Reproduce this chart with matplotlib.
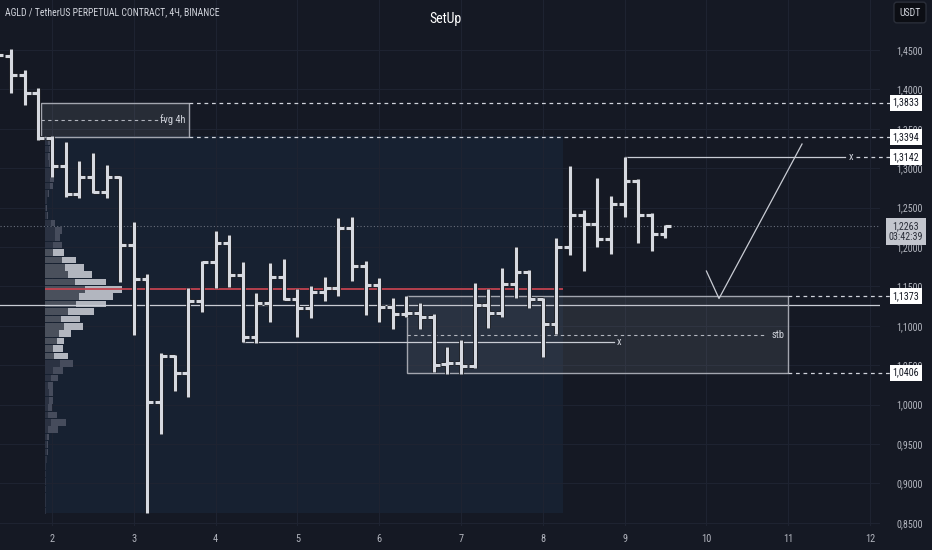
import matplotlib
matplotlib.use("Agg")
import matplotlib.pyplot as plt
from matplotlib import font_manager
from matplotlib.patches import Rectangle
import numpy as np

# ---------------- data (4h bars, bar k sits at day 2 + k/6)
bar_idx = list(range(-4, 46))
opens = [1.4450, 1.4424, 1.4183, 1.3958, 1.3379, 1.3028, 1.2673, 1.2892, 1.2702, 1.2892,
         1.2025, 1.1594, 1.0029, 1.0617, 1.0405, 1.1315, 1.1806, 1.2047, 1.1645, 1.0862,
         1.1293, 1.1623, 1.1336, 1.1222, 1.1433, 1.1484, 1.2245, 1.1763, 1.1518, 1.1235,
         1.1150, 1.1159, 1.1108, 1.0511, 1.0524, 1.0494, 1.1264, 1.1167, 1.1530, 1.1687,
         1.1340, 1.1019, 1.1996, 1.2406, 1.2292, 1.2102, 1.2542, 1.2841, 1.2406, 1.2161]
highs = [1.4520, 1.4509, 1.4246, 1.4014, 1.3409, 1.3336, 1.3095, 1.3197, 1.3041, 1.2905,
         1.2313, 1.1657, 1.0651, 1.0629, 1.1476, 1.1826, 1.2207, 1.2152, 1.1813, 1.1420,
         1.1801, 1.1844, 1.1463, 1.1509, 1.1615, 1.2364, 1.2377, 1.1822, 1.1603, 1.1357,
         1.1382, 1.1286, 1.1150, 1.0735, 1.0820, 1.1539, 1.1463, 1.1737, 1.2004, 1.1708,
         1.1357, 1.2110, 1.3028, 1.2470, 1.2872, 1.2651, 1.3142, 1.2859, 1.2435, 1.2279]
lows = [1.4380, 1.3951, 1.3802, 1.3358, 1.2892, 1.2638, 1.2618, 1.2681, 1.2618, 1.1560,
        1.0883, 0.8628, 0.9627, 1.0176, 1.0093, 1.1179, 1.1476, 1.1496, 1.0798, 1.0786,
        1.1052, 1.1327, 1.0862, 1.1095, 1.1318, 1.1382, 1.1569, 1.1137, 1.1052, 1.0956,
        1.1108, 1.0956, 1.0410, 1.0388, 1.0388, 1.0461, 1.0968, 1.1108, 1.1349, 1.1230,
        1.0608, 1.0896, 1.1898, 1.1699, 1.2004, 1.1911, 1.2385, 1.2055, 1.1953, 1.2110]
closes = [1.4437, 1.4183, 1.3958, 1.3379, 1.3028, 1.2673, 1.2892, 1.2702, 1.2892, 1.2025,
          1.1594, 1.0029, 1.0617, 1.0405, 1.1315, 1.1813, 1.2047, 1.1645, 1.0862, 1.1293,
          1.1623, 1.1336, 1.1222, 1.1433, 1.1484, 1.2245, 1.1763, 1.1518, 1.1235, 1.1150,
          1.1159, 1.1108, 1.0503, 1.0524, 1.0494, 1.1264, 1.1167, 1.1530, 1.1687, 1.1340,
          1.1019, 1.1996, 1.2406, 1.2292, 1.2102, 1.2542, 1.2841, 1.2406, 1.2161, 1.2263]

# fixed range volume profile, rows listed from the top price downwards
vp_first_bar, vp_last_bar = 0, 37
vol_inner = [3, 4, 3, 4, 5, 5, 5, 3, 1.5, 1, 2, 6, 10, 10, 8.3, 7.7, 16.7, 20, 23.3, 30,
             40, 34.3, 30.7, 23.3, 16, 19, 14.3, 12.3, 8.3, 9.3, 15, 8.3, 6, 3.3, 4.3, 4.3,
             3.3, 3.3, 6, 3.3, 2.3, 1.7, 1.7, 1.7, 1, 1, 1, 1, 1, 1, 1]
vol_outer = [2, 2, 2, 3, 3, 4, 3.3, 1.3, 0.8, 0.7, 1.3, 4, 6.7, 5, 8.4, 11.6, 14.3, 19, 23.4, 31,
             36.7, 34, 30.3, 25.7, 19, 18.7, 11.7, 6.7, 9.4, 14, 12.7, 10, 6.7, 4.4, 4, 3.4,
             3.4, 8.4, 15, 10, 2, 1, 1, 0.6, 0.3, 0.3, 0.3, 0.3, 0.3, 0.3, 0.3]
va_rows = (15, 29)

last_price = 1.2263
last_timer = "03:42:39"
hline_price = 1.1264
fvg_top, fvg_bot = 1.3833, 1.3394
fvg_x = (1.862, 3.675)
stb_top, stb_bot = 1.1373, 1.0406
stb_x = (6.336, 11.0)
x_line_bar, x_line_end = 14, 8.870
target_bar, target_end = 42, 11.694
path_x = [10.0, 10.154, 11.169]
path_y = [1.1695, 1.1346, 1.3307]

day_ticks = list(range(2, 13))
price_ticks = [0.85, 0.90, 0.95, 1.00, 1.05, 1.10, 1.15, 1.20, 1.25, 1.30, 1.35, 1.40, 1.45]

# ---------------- style
bg = '#151924'
fg = '#d1d4dc'
muted = '#b2b5be'
bar_col = '#d6d9e0'

names = {f.name for f in font_manager.fontManager.ttflist}
narrow = next((n for n in ['Liberation Sans Narrow', 'Roboto Condensed', 'DejaVu Sans Condensed']
               if n in names), 'Roboto')
plt.rcParams['font.family'] = [narrow, 'DejaVu Sans']

W, H = 932, 550
plot_r, plot_b = 880, 526
px_day, px_price = 81.8, 788.0

fig = plt.figure(figsize=(W / 100, H / 100), dpi=100, facecolor=bg)
ax = fig.add_axes([0, (H - plot_b) / H, plot_r / W, plot_b / H])
ax.set_facecolor(bg)
ax.set_xlim(2 - 52 / px_day, 2 + (plot_r - 52) / px_day)
ax.set_ylim(1.45 - (plot_b - 50) / px_price, 1.45 + 50 / px_price)
for s in ax.spines.values():
    s.set_visible(False)

ax.set_xticks(day_ticks)
ax.set_xticklabels([str(d) for d in day_ticks])
ax.yaxis.tick_right()
ax.set_yticks(price_ticks)
ax.set_yticklabels([f"{p:.4f}".replace('.', ',') for p in price_ticks])
ax.tick_params(axis='y', length=0, pad=12, labelsize=7.2, labelcolor=muted)
ax.tick_params(axis='x', length=0, pad=6, labelsize=7.5, labelcolor=muted)
ax.set_axisbelow(True)
ax.grid(color='#1e2331', lw=0.8)

x = 2 + np.array(bar_idx) / 6
o, h, l, c = map(np.array, (opens, highs, lows, closes))
step = 1 / 6

# ---------------- volume profile range
sel = (np.array(bar_idx) >= vp_first_bar) & (np.array(bar_idx) <= vp_last_bar)
vp_left = 2 + vp_first_bar / 6 - step / 2
vp_right = 2 + vp_last_bar / 6 + step / 2
vp_high, vp_low = h[sel].max(), l[sel].min()
ax.add_patch(Rectangle((vp_left, vp_low), vp_right - vp_left, vp_high - vp_low,
                       fc='#172131', ec='none', zorder=0.2))

inner = np.array(vol_inner)
outer = np.array(vol_outer)
total = inner + outer
n_rows = len(inner)
row_h = (vp_high - vp_low) / n_rows
rows = np.arange(n_rows)
# rows sit a touch lower than the box edges, as TradingView draws them
row_mid = vp_high - row_h * (rows + 0.5) - 0.0025
scale = 0.148 * (vp_right - vp_left) / total.max()
in_va = (rows >= va_rows[0]) & (rows <= va_rows[1])
ax.barh(row_mid, inner * scale, height=row_h * 0.9, left=vp_left,
        color=np.where(in_va, '#4a505c', '#2b3242'), zorder=1)
ax.barh(row_mid, outer * scale, height=row_h * 0.9, left=vp_left + inner * scale,
        color=np.where(in_va, '#b2b6bf', '#464c5c'), zorder=1)
poc = row_mid[np.argmax(total)]
ax.hlines(poc, vp_left, vp_right, color='#c2434f', lw=1.3, zorder=3)

# ---------------- drawings
ax.axhline(last_price, color='#6a6f7c', lw=0.8, ls=(0, (1, 2)), zorder=2)
ax.axhline(hline_price, color='#c9ccd4', lw=0.9, zorder=2)

xr = 2 + 838 / px_day   # price label column
for top, bot, (x0, x1), name in [(fvg_top, fvg_bot, fvg_x, 'fvg 4h'),
                                  (stb_top, stb_bot, stb_x, 'stb')]:
    ax.add_patch(Rectangle((x0, bot), x1 - x0, top - bot, fc=(0.58, 0.6, 0.63, 0.15),
                           ec='#a3a6af', lw=1, zorder=4))
    mid = (top + bot) / 2
    ax.plot([x0, x1 - 0.28], [mid, mid], color=muted, lw=0.8, dashes=(3, 3), zorder=4)
    ax.text(x1 - 0.05, mid, name, color=fg, fontsize=7.5, ha='right', va='center', zorder=4)
    for p in (top, bot):
        ax.plot([x1, xr], [p, p], color=fg, lw=0.9, dashes=(3, 3), zorder=4, clip_on=False)

# sweep line to "x"
xb = 2 + x_line_bar / 6
ax.plot([xb, x_line_end], [l[bar_idx.index(x_line_bar)]] * 2, color='#c9ccd4', lw=0.9, zorder=4)
ax.text(x_line_end + 0.06, l[bar_idx.index(x_line_bar)], 'x', color=fg, fontsize=7.5,
        ha='center', va='center', zorder=4)

# target line at the local high
th = h[bar_idx.index(target_bar)]
ax.plot([2 + target_bar / 6, target_end], [th, th], color='#c9ccd4', lw=0.9, zorder=4)
ax.text(target_end + 0.07, th, 'x', color=fg, fontsize=7.5, ha='center', va='center', zorder=4)
ax.plot([target_end + 0.14, xr], [th, th], color=fg, lw=0.9, dashes=(3, 3), zorder=4,
        clip_on=False)

ax.plot(path_x, path_y, color='#c9ccd4', lw=0.9, zorder=4)

# ---------------- OHLC bars
tick = 0.072
for lw, col, z in [(3.4, '#0b0d12', 5), (2.3, bar_col, 6)]:
    ax.vlines(x, l, h, color=col, lw=lw, zorder=z, capstyle='butt')
    ax.hlines(o, x - tick, x, color=col, lw=lw, zorder=z, capstyle='butt')
    ax.hlines(c, x, x + tick, color=col, lw=lw, zorder=z, capstyle='butt')

# ---------------- price axis labels
lab_x = 906 / plot_r
ytr = ax.get_yaxis_transform()
for p in (fvg_top, fvg_bot, th, stb_top, stb_bot):
    ax.text(lab_x, p, f"{p:.4f}".replace('.', ','), transform=ytr, ha='center', va='center',
            fontsize=7.2, color='#131722', zorder=10, clip_on=False,
            bbox=dict(boxstyle='square,pad=0.3', fc='white', ec='none'))
ax.annotate(f"{last_price:.4f}".replace('.', ',') + "\n" + last_timer, xy=(lab_x, last_price),
            xycoords=ytr, xytext=(0, 3.5), textcoords='offset points', ha='center', va='top',
            fontsize=7.2, color='#2a2e39', linespacing=1.1, zorder=10, annotation_clip=False,
            bbox=dict(boxstyle='square,pad=0.3', fc='#c3c6ce', ec='none'))

fig.text(910 / W, 1 - 12.5 / H, 'USDT', ha='center', va='center', fontsize=7, color=fg,
         bbox=dict(boxstyle='round,pad=0.55,rounding_size=0.3', fc='#0c0e14', ec='#2a2e39'))
fig.text(445 / W, 1 - 19 / H, 'SetUp', ha='center', va='center', fontsize=10, color='white')
fig.text(5 / W, 1 - 12 / H, 'AGLD / TetherUS PERPETUAL CONTRACT, 4Ч, BINANCE',
         ha='left', va='center', fontsize=7, color=fg)

fig.savefig('out.png', dpi=100, facecolor=bg)
